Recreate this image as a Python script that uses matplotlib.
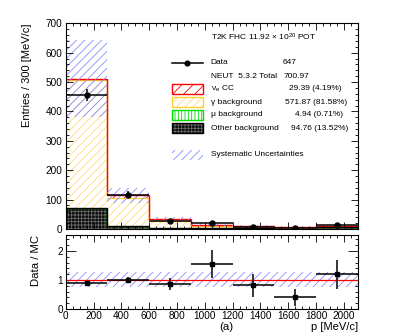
import numpy as np
import matplotlib
matplotlib.use("Agg")
import matplotlib.pyplot as plt
from matplotlib.patches import Rectangle
from matplotlib.lines import Line2D
from matplotlib.ticker import MultipleLocator

plt.rcParams['font.family'] = ['Liberation Sans', 'DejaVu Sans']
plt.rcParams['mathtext.fontset'] = 'custom'
plt.rcParams['mathtext.rm'] = 'Liberation Sans'
plt.rcParams['mathtext.it'] = 'Liberation Sans:italic'
plt.rcParams['hatch.linewidth'] = 0.6

# ---------------- data ----------------
edges = [0, 300, 600, 900, 1200, 1500, 1800, 2100]
other_bkg = [70, 10, 3, 2, 2.5, 1, 7]
mu_bkg = [3, 0.5, 0.2, 0.2, 0.2, 0.1, 0.7]
gamma_bkg = [433, 94, 25, 9, 4, 3, 2.5]
nue_cc = [5.5, 10.5, 5, 3.5, 2.5, 1.2, 1.5]
syst_err = [132, 25, 9, 5, 3, 2, 3]
data = [455, 117, 28, 22, 8, 3, 14]
data_err = [21, 11, 5, 5, 3, 2, 4]
ratio = [0.90, 0.99, 0.86, 1.55, 0.81, 0.40, 1.19]
ratio_err = [0.05, 0.10, 0.21, 0.47, 0.39, 0.29, 0.49]
ratio_band = (0.77, 1.27)

legend_labels = ["Data", "NEUT  5.3.2 Total", "ν$_{\\mathrm{e}}$ CC", "γ background",
                 "μ background", "Other background", "Systematic Uncertainties"]
legend_values = ["647", "700.97", "29.39 (4.19%)", "571.87 (81.58%)",
                 "4.94 (0.71%)", "94.76 (13.52%)"]

W, H = 411, 336
fig = plt.figure(figsize=(W / 100, H / 100), dpi=100)

def fx(x):
    return x / W

def fy(y):
    return 1 - y / H

ax = fig.add_axes([fx(65.7), fy(229), (357.7 - 65.7) / W, (229 - 23.3) / H])
axr = fig.add_axes([fx(65.7), fy(309), (357.7 - 65.7) / W, (309 - 235) / H])

edges_a = np.array(edges, dtype=float)
centers = 0.5 * (edges_a[1:] + edges_a[:-1])
halfw = 0.5 * np.diff(edges_a)

c_other = np.array(other_bkg, float)
c_mu = c_other + np.array(mu_bkg, float)
c_gam = c_mu + np.array(gamma_bkg, float)
c_nue = c_gam + np.array(nue_cc, float)

red = '#ff0000'
orange = '#ffcc33'
orange_h = '#ffd97a'
green = '#00dd00'
blue_h = '#8c8cff'

# Other background (black, gridded)
ax.stairs(c_other, edges, baseline=0, fill=True, facecolor='#0a0a0a',
          edgecolor='#6a6a6a', hatch='+++++', linewidth=0)
ax.stairs(c_other, edges, baseline=0, color='black', linewidth=1.0)
# mu background
ax.stairs(c_mu, edges, baseline=c_other, fill=True, facecolor='white',
          edgecolor=green, hatch='|||||', linewidth=0)
ax.stairs(c_mu, edges, baseline=None, color=green, linewidth=1.0)
# gamma background
ax.stairs(c_gam, edges, baseline=c_mu, fill=True, facecolor='white',
          edgecolor=orange_h, hatch='////', linewidth=0)
ax.stairs(c_gam, edges, baseline=None, color=orange, linewidth=1.0)
# nue CC
ax.stairs(c_nue, edges, baseline=c_gam, fill=True, facecolor='white',
          edgecolor=red, hatch='///', linewidth=0)
ax.stairs(c_nue, edges, baseline=None, color=red, linewidth=1.0)
ax.stairs(c_other, edges, baseline=None, color='black', linewidth=1.0)

# systematic band
serr = np.array(syst_err, float)
ax.stairs(c_nue + serr, edges, baseline=c_nue - serr, fill=True,
          facecolor='none', edgecolor=blue_h, hatch='////', linewidth=0)

# data
ax.errorbar(centers, data, xerr=halfw, yerr=data_err, fmt='o', color='black',
            ms=3.6, elinewidth=1.1, capsize=0, zorder=5)

tfs = 7.2
ax.set_xlim(0, 2100)
ax.set_ylim(0, 700)
ax.xaxis.set_major_locator(MultipleLocator(200))
ax.xaxis.set_minor_locator(MultipleLocator(50))
ax.yaxis.set_major_locator(MultipleLocator(100))
ax.yaxis.set_minor_locator(MultipleLocator(20))
ax.tick_params(axis='both', which='both', direction='in', top=True, right=True,
               labelsize=tfs, width=0.6, pad=2.5)
ax.tick_params(which='major', length=5)
ax.tick_params(which='minor', length=2.5)
ax.tick_params(axis='x', labelbottom=False)
ax.set_ylabel("Entries / 300 [MeV/c]", fontsize=8.0)
ax.yaxis.set_label_coords(-0.150, 1.0)
ax.yaxis.label.set_va('top')
ax.yaxis.label.set_ha('right')
for s in ax.spines.values():
    s.set_linewidth(0.8)

# ratio panel
axr.fill_between([0, 2100], ratio_band[0], ratio_band[1], facecolor='none',
                 edgecolor=blue_h, hatch='////', linewidth=0)
axr.axhline(1.0, color=red, linewidth=0.9)
axr.errorbar(centers, ratio, xerr=halfw, yerr=ratio_err, fmt='s', color='black',
             ms=3.4, elinewidth=1.1, capsize=0, zorder=5)
axr.set_xlim(0, 2100)
axr.set_ylim(0, 2.55)
axr.xaxis.set_major_locator(MultipleLocator(200))
axr.xaxis.set_minor_locator(MultipleLocator(50))
axr.yaxis.set_major_locator(MultipleLocator(1))
axr.yaxis.set_minor_locator(MultipleLocator(0.2))
axr.tick_params(axis='both', which='both', direction='in', top=True, right=True,
                labelsize=tfs, width=0.6, pad=2)
axr.tick_params(axis='x', which='both', pad=1.5)
axr.tick_params(which='major', length=5)
axr.tick_params(which='minor', length=2.5)
axr.tick_params(axis='y', which='major', length=7)
axr.set_ylabel("Data / MC", fontsize=8.2)
axr.yaxis.set_label_coords(-0.118, 1.0)
axr.yaxis.label.set_va('top')
axr.yaxis.label.set_ha('right')
for s in axr.spines.values():
    s.set_linewidth(0.8)
fig.text(fx(357.7), fy(327), "p [MeV/c]", ha='right', va='center', fontsize=8.0)
fig.text(fx(226.7), fy(327.5), "(a)", ha='center', va='center', fontsize=8.2)

# legend (manual)
lfs = 6.0
fig.text(fx(210.7), fy(37), "T2K FHC 11.92 $\\times$ 10$^{20}$ POT", ha='left',
         va='center', fontsize=lfs)
rows = [63, 76, 89, 102, 115, 128, 155]
for lab, yy in zip(legend_labels, rows):
    fig.text(fx(210.7), fy(yy), lab, ha='left', va='center', fontsize=lfs)
val_x = [282.7, 284, 289.3, 285, 295, 290.7]
for v, xx, yy in zip(legend_values, val_x, rows[:6]):
    fig.text(fx(xx), fy(yy), v, ha='left', va='center', fontsize=lfs)

fig.add_artist(Line2D([fx(171.7), fx(202.7)], [fy(63), fy(63)],
                      transform=fig.transFigure, color='black', lw=1.1))
fig.add_artist(Line2D([fx(187.2)], [fy(63)], transform=fig.transFigure,
                      marker='o', ms=3.4, color='black'))

def lbox(yc, fc, hc, hatch, ec):
    r = Rectangle((fx(172), fy(yc + 5)), 30.5 / W, 10 / H, transform=fig.transFigure,
                  facecolor=fc, edgecolor=hc, hatch=hatch, linewidth=0)
    fig.add_artist(r)
    if ec is not None:
        r2 = Rectangle((fx(172), fy(yc + 5)), 30.5 / W, 10 / H, transform=fig.transFigure,
                       facecolor='none', edgecolor=ec, linewidth=1.0)
        fig.add_artist(r2)

lbox(89, 'white', red, '///', red)
lbox(102, 'white', orange_h, '////', orange)
lbox(115, 'white', green, '|||||', green)
lbox(128, '#0a0a0a', '#6a6a6a', '+++++', 'black')
lbox(155, 'white', blue_h, '////', None)

fig.savefig("out.png", dpi=100)
